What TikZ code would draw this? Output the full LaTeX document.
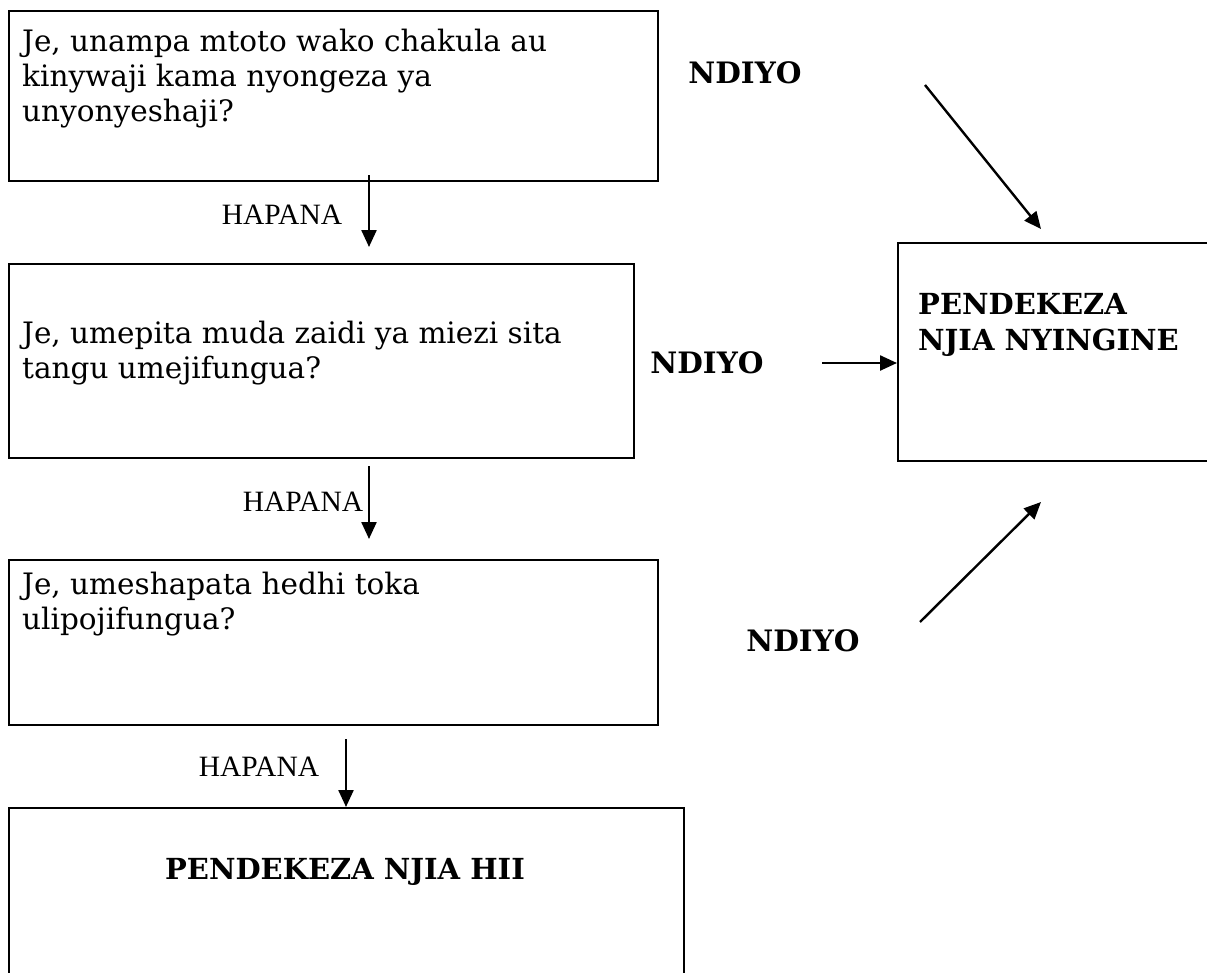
\documentclass[tikz,border=0pt]{standalone}
\usepackage{fontspec}
\setmainfont{DejaVu Serif}
\newfontfamily\hapfont{Liberation Serif}
\usetikzlibrary{arrows.meta}
\tikzset{
  boxnode/.style={draw, line width=2.4pt, rectangle, inner sep=0pt, anchor=north west},
  qtext/.style={anchor=north west, inner sep=0pt, align=left, font=\fontsize{29.5}{35}\selectfont},
  btext/.style={inner sep=0pt, align=left, font=\fontsize{29}{36}\selectfont\bfseries},
  ylabel/.style={inner sep=0pt, font=\fontsize{29.5}{32}\selectfont\bfseries},
  nlabel/.style={inner sep=0pt, font=\fontsize{29.5}{32}\selectfont\hapfont},
  arr/.style={line width=2.4pt, -{Triangle[length=17pt,width=15pt]}}
}
\begin{document}
\begin{tikzpicture}[x=1pt,y=-1pt]
\useasboundingbox (0,0) rectangle (1207,972);
% boxes
\node[boxnode, minimum width=649pt, minimum height=170pt] (q1) at (8,10) {};
\node[boxnode, minimum width=625pt, minimum height=194pt] (q2) at (8,263) {};
\node[boxnode, minimum width=649pt, minimum height=165pt] (q3) at (8,559) {};
\node[boxnode, minimum width=675pt, minimum height=190pt] (res) at (8,807) {};
\node[boxnode, minimum width=330pt, minimum height=218pt] (alt) at (897,242) {};
% texts
\node[qtext] (t1) at (22,29) {Je, unampa mtoto wako chakula au\\kinywaji kama nyongeza ya\\unyonyeshaji?};
\node[qtext] (t2) at (22,321) {Je, umepita muda zaidi ya miezi sita\\tangu umejifungua?};
\node[qtext] (t3) at (22,572) {Je, umeshapata hedhi toka\\ulipojifungua?};
\node[btext, anchor=north west] (t4) at (918,293) {PENDEKEZA\\NJIA NYINGINE};
\node[btext] (t5) at (345,872) {PENDEKEZA NJIA HII};
% labels
\node[nlabel] (h1) at (282,215) {HAPANA};
\node[nlabel] (h2) at (303,502) {HAPANA};
\node[nlabel] (h3) at (259,767) {HAPANA};
\node[ylabel] (y1) at (745,73) {NDIYO};
\node[ylabel] (y2) at (707,363) {NDIYO};
\node[ylabel] (y3) at (803,641) {NDIYO};
% arrow ends
\coordinate (a1s) at (369,175);
\coordinate (a1e) at (369,247);
\coordinate (a2s) at (369,466);
\coordinate (a2e) at (369,539);
\coordinate (a3s) at (346,739);
\coordinate (a3e) at (346,807);
\coordinate (b1s) at (925,85);
\coordinate (b1e) at (1041,229);
\coordinate (b2s) at (822,363);
\coordinate (b3s) at (920,622);
\coordinate (b3e) at (1041,502);
\draw[arr] (a1s) -- (a1e);
\draw[arr] (a2s) -- (a2e);
\draw[arr] (a3s) -- (a3e);
\draw[arr] (b1s) -- (b1e);
\draw[arr] (b2s) -- (b2s -| alt.west);
\draw[arr] (b3s) -- (b3e);
\end{tikzpicture}
\end{document}
